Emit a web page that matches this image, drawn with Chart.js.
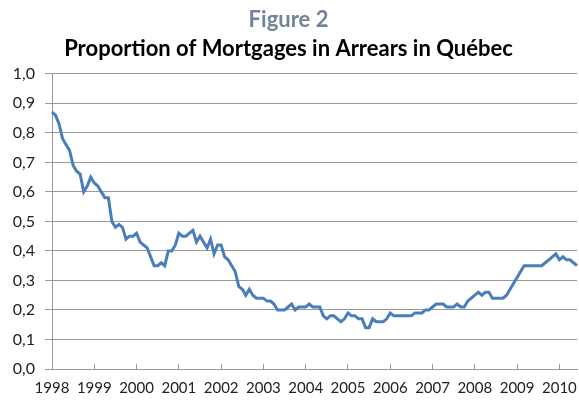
<!DOCTYPE html>
<html>
<head>
<meta charset="utf-8">
<script src="https://cdn.jsdelivr.net/npm/chart.js@4"></script>
<style>
  html, body { margin: 0; padding: 0; background: #fff; }
  #wrap { width: 579px; height: 404px; }
</style>
</head>
<body>
<div id="wrap"><canvas id="chart"></canvas></div>
<script>
// monthly series, Jan 1998 .. Jun 2010
const years = ['1998','1999','2000','2001','2002','2003','2004','2005','2006','2007','2008','2009','2010'];
const arrears = [
  0.87,0.86,0.83,0.78,0.76,0.74,0.69,0.67,0.66,0.60,0.62,0.65, // 1998
  0.63,0.62,0.60,0.58,0.58,0.50,0.48,0.49,0.48,0.44,0.45,0.45, // 1999
  0.46,0.43,0.42,0.41,0.38,0.35,0.35,0.36,0.35,0.40,0.40,0.42, // 2000
  0.46,0.45,0.45,0.46,0.47,0.43,0.45,0.43,0.41,0.44,0.39,0.42, // 2001
  0.42,0.38,0.37,0.35,0.33,0.28,0.27,0.25,0.27,0.25,0.24,0.24, // 2002
  0.24,0.23,0.23,0.22,0.20,0.20,0.20,0.21,0.22,0.20,0.21,0.21, // 2003
  0.21,0.22,0.21,0.21,0.21,0.18,0.17,0.18,0.18,0.17,0.16,0.17, // 2004
  0.19,0.18,0.18,0.17,0.17,0.14,0.14,0.17,0.16,0.16,0.16,0.17, // 2005
  0.19,0.18,0.18,0.18,0.18,0.18,0.18,0.19,0.19,0.19,0.20,0.20, // 2006
  0.21,0.22,0.22,0.22,0.21,0.21,0.21,0.22,0.21,0.21,0.23,0.24, // 2007
  0.25,0.26,0.25,0.26,0.26,0.24,0.24,0.24,0.24,0.25,0.27,0.29, // 2008
  0.31,0.33,0.35,0.35,0.35,0.35,0.35,0.35,0.36,0.37,0.38,0.39, // 2009
  0.37,0.38,0.37,0.37,0.36,0.35                                // 2010
];

// one label per month, only January gets the year
const months = arrears.map((v, i) => years[Math.floor(i / 12)] + '-' + (i % 12 + 1));

const gridGrey = '#999999';
const fontFam = 'Lato, "Open Sans", sans-serif';

new Chart(document.getElementById('chart'), {
  type: 'line',
  data: {
    labels: months,
    datasets: [{
      data: arrears,
      borderColor: '#4a7ebb',
      borderWidth: 3,
      pointRadius: 0,
      tension: 0,
      fill: false
    }]
  },
  options: {
    responsive: true,
    maintainAspectRatio: false,
    animation: false,
    layout: { padding: { left: 0, right: 2, top: 0, bottom: 0 } },
    plugins: {
      legend: { display: false },
      tooltip: { enabled: false },
      title: {
        display: true,
        text: 'Figure 2',
        color: '#72849a',
        font: { family: fontFam, size: 22, weight: 'bold' },
        padding: { top: 7, bottom: 0 }
      },
      subtitle: {
        display: true,
        text: 'Proportion of Mortgages in Arrears in Québec',
        color: '#000',
        font: { family: fontFam, size: 22, weight: 'bold' },
        padding: { top: 2, bottom: 12 }
      }
    },
    scales: {
      x: {
        border: { color: gridGrey, width: 1 },
        grid: {
          drawOnChartArea: false,
          color: gridGrey,
          lineWidth: 1,
          tickLength: -5   // tick marks point up into the plot, like Excel
        },
        ticks: {
          autoSkip: false,
          maxRotation: 0,
          padding: 15,
          color: '#222',
          font: { family: fontFam, size: 15 },
          callback: function (val, idx) {
            return idx % 12 === 0 ? years[idx / 12] : null;
          }
        },
        afterFit: function (scale) { scale.height = 35; scale.paddingRight = 0; }
      },
      y: {
        min: 0,
        max: 1,
        border: { color: gridGrey, width: 1 },
        grid: { color: gridGrey, lineWidth: 1, tickLength: 7 },
        ticks: {
          stepSize: 0.1,
          padding: 10,
          color: '#222',
          font: { family: fontFam, size: 16 },
          callback: v => v.toFixed(1).replace('.', ',')
        },
        afterFit: function (scale) { scale.width = 52; }
      }
    }
  }
});
</script>
</body>
</html>
